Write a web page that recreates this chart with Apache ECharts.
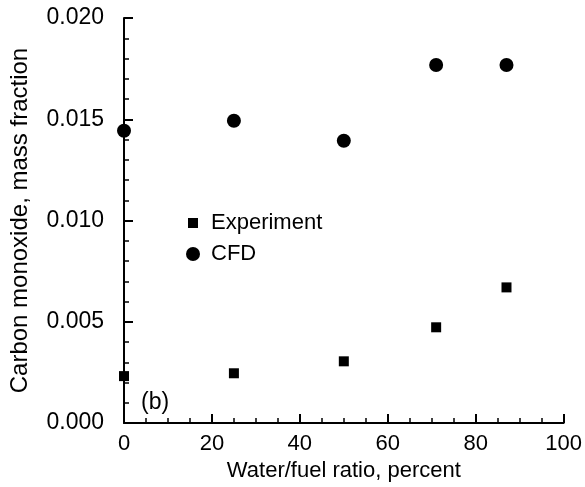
<!DOCTYPE html>
<html lang="en">
<head>
    <meta charset="UTF-8">
    <title>Carbon monoxide vs water/fuel ratio</title>
    <script src="https://cdn.jsdelivr.net/npm/echarts@6/dist/echarts.min.js"></script>
    <style>
        html, body { margin: 0; padding: 0; background: #fff; }
        #main { width: 585px; height: 487px; }
    </style>
</head>
<body>
<div id="main"></div>
<script>
    // data
    var waterRatio = [0, 25, 50, 71, 87];
    var experiment = [0.00232, 0.00246, 0.00305, 0.00473, 0.0067];
    var cfd = [0.01443, 0.01493, 0.01394, 0.01768, 0.01768];
    var seriesNames = ['Experiment', 'CFD'];

    function pairs(xs, ys) {
        return xs.map(function (x, i) { return [x, ys[i]]; });
    }

    var font = '"Liberation Sans", Arial, sans-serif';
    var myChart = echarts.init(document.getElementById('main'));

    var axisCommon = {
        axisLine: { lineStyle: { color: '#000', width: 2 } },
        axisTick: { inside: true, length: 9, lineStyle: { color: '#000', width: 2 } },
        minorTick: { show: true, length: 5, lineStyle: { color: '#000', width: 1.5 } },
        splitLine: { show: false }
    };

    var option = {
        animation: false,
        backgroundColor: '#fff',
        grid: { left: 122, right: 19, top: 18, bottom: 63 },
        legend: [
            {
                data: [seriesNames[0]], orient: 'vertical',
                left: 183, top: 207, itemWidth: 10, itemHeight: 10,
                textStyle: { color: '#000', fontSize: 22, fontFamily: font, padding: [0, 0, 0, 8] }
            },
            {
                data: [seriesNames[1]], orient: 'vertical',
                left: 181, top: 238, itemWidth: 14, itemHeight: 14,
                textStyle: { color: '#000', fontSize: 22, fontFamily: font, padding: [0, 0, 0, 6] }
            }
        ],
        xAxis: Object.assign({}, axisCommon, {
            type: 'value', min: 0, max: 100, interval: 20,
            name: 'Water/fuel ratio, percent', nameLocation: 'middle', nameGap: 30,
            nameTextStyle: { color: '#000', fontSize: 22, fontFamily: font },
            minorTick: Object.assign({}, axisCommon.minorTick, { splitNumber: 4 }),
            axisLabel: { color: '#000', fontSize: 22, fontFamily: font, margin: 10 }
        }),
        yAxis: Object.assign({}, axisCommon, {
            type: 'value', min: 0, max: 0.02, interval: 0.005,
            name: 'Carbon monoxide, mass fraction', nameLocation: 'middle', nameGap: 92,
            nameTextStyle: { color: '#000', fontSize: 24, fontFamily: font },
            minorTick: Object.assign({}, axisCommon.minorTick, { splitNumber: 5 }),
            axisLabel: {
                color: '#000', fontSize: 23, fontFamily: font, margin: 20,
                formatter: function (v) { return v.toFixed(3); }
            }
        }),
        graphic: [{
            type: 'text', left: 141, top: 391,
            style: { text: '(b)', fill: '#000', fontSize: 23, fontFamily: font }
        }],
        series: [
            {
                name: seriesNames[0], type: 'scatter', symbol: 'rect', symbolSize: 10,
                itemStyle: { color: '#000', opacity: 1 }, data: pairs(waterRatio, experiment)
            },
            {
                name: seriesNames[1], type: 'scatter', symbol: 'circle', symbolSize: 14,
                itemStyle: { color: '#000', opacity: 1 }, data: pairs(waterRatio, cfd)
            }
        ]
    };
    myChart.setOption(option);
</script>
</body>
</html>
